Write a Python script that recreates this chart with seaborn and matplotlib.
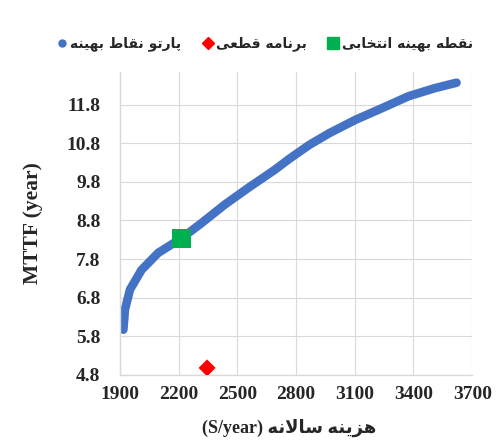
import matplotlib
matplotlib.use("Agg")
import matplotlib.pyplot as plt
import seaborn as sns
import pandas as pd
from matplotlib.lines import Line2D

# ---------------- data ----------------
pareto_cost = [1917, 1925, 1951, 2010, 2095, 2214, 2316, 2435, 2554, 2690,
               2766, 2868, 2969, 3104, 3239, 3375, 3510, 3620]
pareto_mttf = [5.97, 6.49, 7.01, 7.52, 7.96, 8.34, 8.73, 9.21, 9.64, 10.11,
               10.40, 10.76, 11.06, 11.41, 11.71, 12.02, 12.23, 12.37]
selected_cost = [2214]
selected_mttf = [8.34]
fixed_cost = [2345]
fixed_mttf = [4.98]

x_ticks = [1900, 2200, 2500, 2800, 3100, 3400, 3700]
y_ticks = [4.8, 5.8, 6.8, 7.8, 8.8, 9.8, 10.8, 11.8]

label_pareto = "پارتو نقاط بهینه"
label_fixed = "برنامه قطعی"
label_selected = "نقطه بهینه انتخابی"
xlabel_fa = "هزینه سالانه"

# ------------- simple persian shaping (matplotlib has no bidi) -------------
FORMS = {
    'ا': ('\uFE8D', '\uFE8E', None, None),
    'ب': ('\uFE8F', '\uFE90', '\uFE91', '\uFE92'),
    'پ': ('\uFB56', '\uFB57', '\uFB58', '\uFB59'),
    'ت': ('\uFE95', '\uFE96', '\uFE97', '\uFE98'),
    'خ': ('\uFEA5', '\uFEA6', '\uFEA7', '\uFEA8'),
    'ر': ('\uFEAD', '\uFEAE', None, None),
    'ز': ('\uFEAF', '\uFEB0', None, None),
    'س': ('\uFEB1', '\uFEB2', '\uFEB3', '\uFEB4'),
    'ط': ('\uFEC1', '\uFEC2', '\uFEC3', '\uFEC4'),
    'ع': ('\uFEC9', '\uFECA', '\uFECB', '\uFECC'),
    'ق': ('\uFED5', '\uFED6', '\uFED7', '\uFED8'),
    'ل': ('\uFEDD', '\uFEDE', '\uFEDF', '\uFEE0'),
    'م': ('\uFEE1', '\uFEE2', '\uFEE3', '\uFEE4'),
    'ن': ('\uFEE5', '\uFEE6', '\uFEE7', '\uFEE8'),
    'ه': ('\uFEE9', '\uFEEA', '\uFEEB', '\uFEEC'),
    'و': ('\uFEED', '\uFEEE', None, None),
    'ی': ('\uFBFC', '\uFBFD', '\uFBFE', '\uFBFF'),
    '\uFEFB': ('\uFEFB', '\uFEFC', None, None),  # lam-alef
}


def fa(text):
    text = text.replace('لا', '\uFEFB')
    out = []
    for i, ch in enumerate(text):
        if ch not in FORMS:
            out.append(ch)
            continue
        prev = text[i - 1] if i > 0 else ''
        nxt = text[i + 1] if i + 1 < len(text) else ''
        join_prev = prev in FORMS and FORMS[prev][2] is not None
        join_next = nxt in FORMS and FORMS[ch][2] is not None
        iso, fin, ini, med = FORMS[ch]
        if join_prev and join_next:
            out.append(med)
        elif join_prev:
            out.append(fin)
        elif join_next:
            out.append(ini)
        else:
            out.append(iso)
    return ''.join(out)[::-1]


# ---------------- plot ----------------
sns.set_theme(style="whitegrid")
plt.rcParams['font.family'] = ['Liberation Serif', 'DejaVu Sans']

fig = plt.figure(figsize=(4.96, 4.41), dpi=100)
ax = fig.add_axes([0.242, 0.150, 0.710, 0.687])

pareto = pd.DataFrame({"cost": pareto_cost, "mttf": pareto_mttf})
sns.lineplot(data=pareto, x="cost", y="mttf", ax=ax, color="#4472C4",
             linewidth=6.2, solid_capstyle="round", solid_joinstyle="round", sort=False)
sns.scatterplot(x=selected_cost, y=selected_mttf, ax=ax, marker="s", s=190,
                color="#00B050", edgecolor="none", zorder=5)
sns.scatterplot(x=fixed_cost, y=fixed_mttf, ax=ax, marker="D", s=75,
                color="#FF0000", edgecolor="none", zorder=5)

ax.set_xlim(1900, 3700)
ax.set_ylim(4.8, 12.65)
ax.set_xticks(x_ticks)
ax.set_yticks(y_ticks)
ax.set_xticklabels([str(v) for v in x_ticks], fontsize=14, fontweight="bold")
ax.set_yticklabels([f"{v:.1f}" for v in y_ticks], fontsize=14, fontweight="bold")
ax.tick_params(axis="x", pad=8, length=0)
ax.tick_params(axis="y", pad=14, length=0)
ax.grid(True, color="#D9D9D9", linewidth=0.8)
for side in ["top", "right"]:
    ax.spines[side].set_visible(False)
for side in ["left", "bottom"]:
    ax.spines[side].set_color("#D9D9D9")
    ax.spines[side].set_linewidth(1.0)

ax.set_ylabel("MTTF (year)", fontsize=15.5, fontweight="bold")
ax.yaxis.set_label_coords(-0.22, 0.5)
ax.set_xlabel("(S/year) " + fa(xlabel_fa), fontsize=13, fontweight="bold",
              family=['Liberation Serif', 'DejaVu Sans'])
ax.xaxis.set_label_coords(0.48, -0.145)

handles = [
    Line2D([], [], marker="o", linestyle="none", color="#4472C4", markersize=5),
    Line2D([], [], marker="D", linestyle="none", color="#FF0000", markersize=6),
    Line2D([], [], marker="s", linestyle="none", color="#00B050", markersize=8),
]
labels = [fa(label_pareto), fa(label_fixed), fa(label_selected)]
fig.legend(handles, labels, loc="center", bbox_to_anchor=(0.535, 0.90), ncol=3,
           frameon=False, handlelength=0.6, handletextpad=0.3,
           columnspacing=1.6, prop={"family": "DejaVu Sans", "weight": "bold", "size": 10})

fig.savefig("out.png", dpi=100)
